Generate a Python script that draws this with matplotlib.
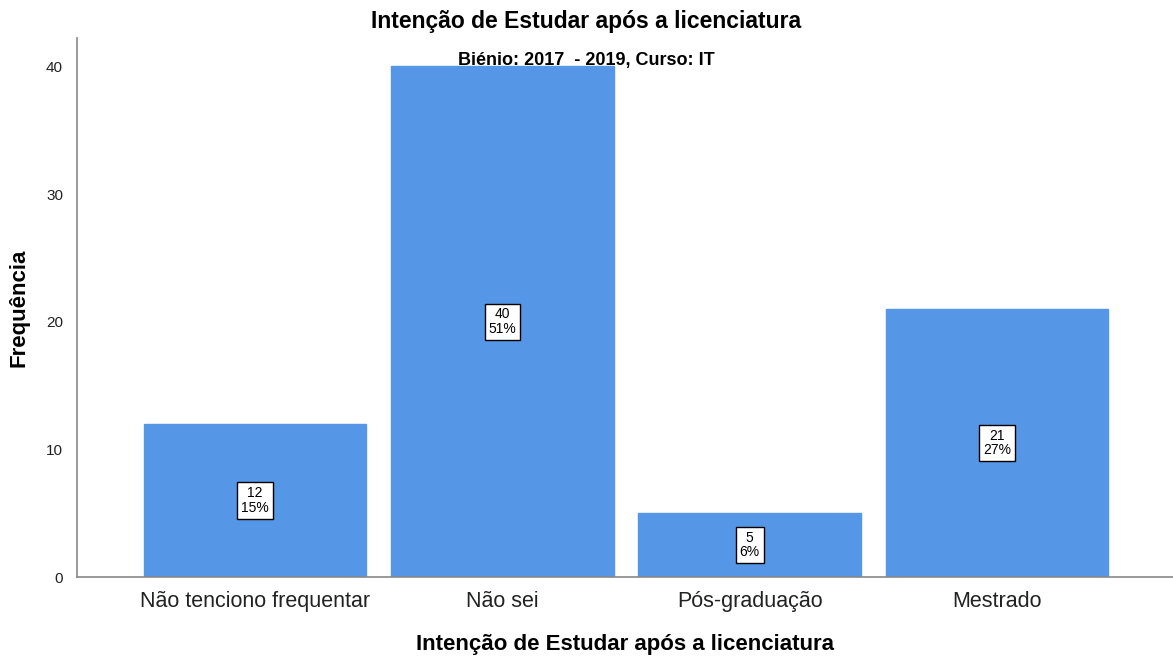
import matplotlib.pyplot as plt
import numpy as np

plt.rcParams["font.family"] = ["Liberation Sans", "DejaVu Sans"]

categories = ["Não tenciono frequentar", "Não sei", "Pós-graduação", "Mestrado"]
counts = [12, 40, 5, 21]
percents = ["15%", "51%", "6%", "27%"]
yticks = [0, 10, 20, 30, 40]

fig = plt.figure(figsize=(11.73, 6.61), dpi=100)
ax = fig.add_axes([0.0656, 0.127, 0.934, 0.815])

x = np.arange(len(categories))
ax.bar(x, counts, width=0.9, color="#5596e6", edgecolor="#5596e6", zorder=2)

for xi, c, p in zip(x, counts, percents):
    ax.text(xi, c / 2, f"{c}\n{p}", ha="center", va="center", fontsize=10,
            linespacing=1.05, color="black",
            bbox=dict(boxstyle="square,pad=0.28", fc="white", ec="black", lw=1), zorder=3)

ax.set_xlim(-0.72, 3.71)
ax.set_ylim(0, 42.2)
ax.set_xticks(x)
ax.set_xticklabels(categories, fontsize=15.5, color="#222222")
ax.set_yticks(yticks)
ax.tick_params(axis="y", length=0, labelsize=11, pad=10, labelcolor="#222222")
ax.tick_params(axis="x", length=0, pad=10)

for side in ["top", "right"]:
    ax.spines[side].set_visible(False)
for side in ["left", "bottom"]:
    ax.spines[side].set_color("#888888")
    ax.spines[side].set_linewidth(1.2)

ax.set_ylabel("Frequência", fontsize=16, fontweight="bold", labelpad=12)
ax.set_xlabel("Intenção de Estudar após a licenciatura", fontsize=16, fontweight="bold", labelpad=16)

fig.text(0.5, 0.968, "Intenção de Estudar após a licenciatura", ha="center", va="center",
         fontsize=16.5, fontweight="bold")
fig.text(0.5, 0.909, "Biénio: 2017  - 2019, Curso: IT", ha="center", va="center",
         fontsize=13, fontweight="bold", zorder=5)

fig.savefig("out.png", dpi=100)
